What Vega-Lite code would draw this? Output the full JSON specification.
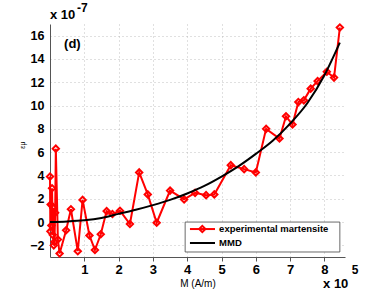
{
  "$schema": "https://vega.github.io/schema/vega-lite/v6.json",
  "width": 295,
  "height": 233,
  "autosize": "none",
  "padding": {"left": 50, "top": 24, "right": 37, "bottom": 36},
  "background": "white",
  "config": {
    "view": {"stroke": null},
    "font": "Liberation Sans",
    "axis": {
      "labelFont": "Liberation Sans",
      "labelFontWeight": "bold",
      "labelFontSize": 13,
      "labelColor": "black",
      "labelOverlap": false,
      "domainColor": "#555555",
      "domainWidth": 1,
      "tickColor": "#555555",
      "grid": true,
      "gridDash": [1, 3],
      "gridColor": "#b0b0b0",
      "gridWidth": 0.8
    },
    "axisLeft": {"labelOverlap": false, "labelBound": false, "labelFlush": false}
  },
  "datasets": {
    "exp": [
      {"M": 0.0, "eps": 3.9}, {"M": 0.01, "eps": -0.8}, {"M": 0.02, "eps": 1.5}, {"M": 0.04, "eps": -0.3},
      {"M": 0.06, "eps": 2.9}, {"M": 0.08, "eps": -1.1}, {"M": 0.10, "eps": 1.2}, {"M": 0.11, "eps": -2.0},
      {"M": 0.13, "eps": -1.7}, {"M": 0.15, "eps": 0.8}, {"M": 0.17, "eps": 6.3}, {"M": 0.23, "eps": -1.5},
      {"M": 0.28, "eps": -2.7}, {"M": 0.47, "eps": -0.7}, {"M": 0.61, "eps": 1.1}, {"M": 0.81, "eps": -2.5},
      {"M": 0.95, "eps": 1.9}, {"M": 1.15, "eps": -1.15}, {"M": 1.31, "eps": -2.4}, {"M": 1.48, "eps": -1.05},
      {"M": 1.65, "eps": 0.94}, {"M": 1.82, "eps": 0.69}, {"M": 2.04, "eps": 0.97}, {"M": 2.33, "eps": -0.17},
      {"M": 2.6, "eps": 4.26}, {"M": 2.85, "eps": 2.37}, {"M": 3.11, "eps": -0.06}, {"M": 3.5, "eps": 2.7},
      {"M": 3.91, "eps": 1.94}, {"M": 4.23, "eps": 2.51}, {"M": 4.55, "eps": 2.31}, {"M": 4.79, "eps": 2.37},
      {"M": 5.27, "eps": 4.88}, {"M": 5.66, "eps": 4.54}, {"M": 6.0, "eps": 4.26}, {"M": 6.3, "eps": 8.0},
      {"M": 6.69, "eps": 7.17}, {"M": 6.88, "eps": 9.08}, {"M": 7.07, "eps": 8.37}, {"M": 7.24, "eps": 10.3},
      {"M": 7.4, "eps": 10.45}, {"M": 7.6, "eps": 11.45}, {"M": 7.8, "eps": 12.1}, {"M": 8.07, "eps": 12.9},
      {"M": 8.28, "eps": 12.4}, {"M": 8.45, "eps": 16.7}
    ],
    "mmd": [
      {"M": 0, "eps": 0}, {"M": 0.5, "eps": 0.05}, {"M": 1, "eps": 0.15}, {"M": 1.5, "eps": 0.35},
      {"M": 2, "eps": 0.7}, {"M": 2.5, "eps": 1.05}, {"M": 3, "eps": 1.45}, {"M": 3.5, "eps": 1.9},
      {"M": 4, "eps": 2.45}, {"M": 4.5, "eps": 3.1}, {"M": 5, "eps": 3.9}, {"M": 5.5, "eps": 4.8},
      {"M": 6, "eps": 5.85}, {"M": 6.5, "eps": 7.0}, {"M": 7, "eps": 8.45}, {"M": 7.5, "eps": 10.2},
      {"M": 8, "eps": 12.6}, {"M": 8.45, "eps": 15.4}
    ]
  },
  "layer": [
    {
      "data": {"name": "exp"},
      "mark": {"type": "line", "color": "#ff0000", "strokeWidth": 2},
      "encoding": {
        "x": {"field": "M", "type": "quantitative",
              "scale": {"domain": [0, 8.6], "nice": false, "zero": false},
              "axis": {"values": [1, 2, 3, 4, 5, 6, 7, 8], "title": "M (A/m)", "titleFont": "Liberation Sans",
                       "titleFontWeight": "normal", "titleFontSize": 10, "titlePadding": 2, "labelPadding": 2,
                       "tickSize": 4, "labelOverlap": false}},
        "y": {"field": "eps", "type": "quantitative",
              "scale": {"domain": [-3, 17], "nice": false, "zero": false},
              "axis": {"tickCount": 10, "title": null, "ticks": false, "labelPadding": 6,
                       "labelOverlap": false, "labelFontSize": 12.5}}
      }
    },
    {
      "data": {"name": "exp"},
      "mark": {"type": "point", "shape": "diamond", "filled": false, "color": "#ff0000", "strokeWidth": 2, "size": 40, "opacity": 1},
      "encoding": {
        "x": {"field": "M", "type": "quantitative"},
        "y": {"field": "eps", "type": "quantitative"}
      }
    },
    {
      "data": {"name": "mmd"},
      "mark": {"type": "line", "color": "black", "strokeWidth": 2, "interpolate": "monotone"},
      "encoding": {
        "x": {"field": "M", "type": "quantitative"},
        "y": {"field": "eps", "type": "quantitative"}
      }
    },
    {
      "data": {"values": [{}]},
      "mark": {"type": "rect", "fill": "white", "stroke": "#444444", "strokeWidth": 0.8},
      "encoding": {
        "x": {"datum": 3.94}, "x2": {"datum": 8.45},
        "y": {"datum": 0}, "y2": {"datum": -2.57}
      }
    },
    {
      "data": {"values": [{}]},
      "mark": {"type": "rule", "color": "#ff0000", "strokeWidth": 2},
      "encoding": {"x": {"datum": 4.08}, "x2": {"datum": 4.81}, "y": {"datum": -0.6}}
    },
    {
      "data": {"values": [{}]},
      "mark": {"type": "point", "shape": "diamond", "filled": false, "color": "#ff0000", "strokeWidth": 2, "size": 40, "opacity": 1},
      "encoding": {"x": {"datum": 4.44}, "y": {"datum": -0.6}}
    },
    {
      "data": {"values": [{}]},
      "mark": {"type": "rule", "color": "black", "strokeWidth": 2},
      "encoding": {"x": {"datum": 4.08}, "x2": {"datum": 4.81}, "y": {"datum": -1.8}}
    },
    {
      "data": {"values": [{"label": "experimental martensite", "lx": 4.93, "ly": -0.6}, {"label": "MMD", "lx": 4.93, "ly": -1.8}]},
      "mark": {"type": "text", "align": "left", "baseline": "middle", "fontWeight": "bold", "fontSize": 9.5, "font": "Liberation Sans", "color": "black"},
      "encoding": {
        "x": {"field": "lx", "type": "quantitative"},
        "y": {"field": "ly", "type": "quantitative"},
        "text": {"field": "label"}
      }
    },
    {
      "data": {"values": [{}]},
      "mark": {"type": "text", "align": "left", "baseline": "middle", "fontWeight": "bold", "fontSize": 13, "font": "Liberation Sans", "text": "(d)"},
      "encoding": {"x": {"datum": 0.41}, "y": {"datum": 15.25}}
    },
    {
      "data": {"values": [{}]},
      "mark": {"type": "text", "align": "left", "baseline": "middle", "fontWeight": "bold", "fontSize": 13, "font": "Liberation Sans", "text": "x 10"},
      "encoding": {"x": {"datum": 0.0}, "y": {"datum": 17.75}}
    },
    {
      "data": {"values": [{}]},
      "mark": {"type": "text", "align": "left", "baseline": "middle", "fontWeight": "bold", "fontSize": 12, "font": "Liberation Sans", "text": "-7"},
      "encoding": {"x": {"datum": 0.79}, "y": {"datum": 18.35}}
    },
    {
      "data": {"values": [{}]},
      "mark": {"type": "text", "align": "left", "baseline": "middle", "fontWeight": "bold", "fontSize": 13, "font": "Liberation Sans", "text": "x 10"},
      "encoding": {"x": {"datum": 7.96}, "y": {"datum": -5.3}}
    },
    {
      "data": {"values": [{}]},
      "mark": {"type": "text", "align": "left", "baseline": "middle", "fontWeight": "bold", "fontSize": 12, "font": "Liberation Sans", "text": "5"},
      "encoding": {"x": {"datum": 8.8}, "y": {"datum": -4.1}}
    },
    {
      "data": {"values": [{}]},
      "mark": {"type": "text", "align": "center", "baseline": "middle", "fontSize": 7, "font": "Liberation Sans", "angle": 270, "text": "εμ"},
      "encoding": {"x": {"datum": -0.78}, "y": {"datum": 6.6}}
    }
  ]
}
